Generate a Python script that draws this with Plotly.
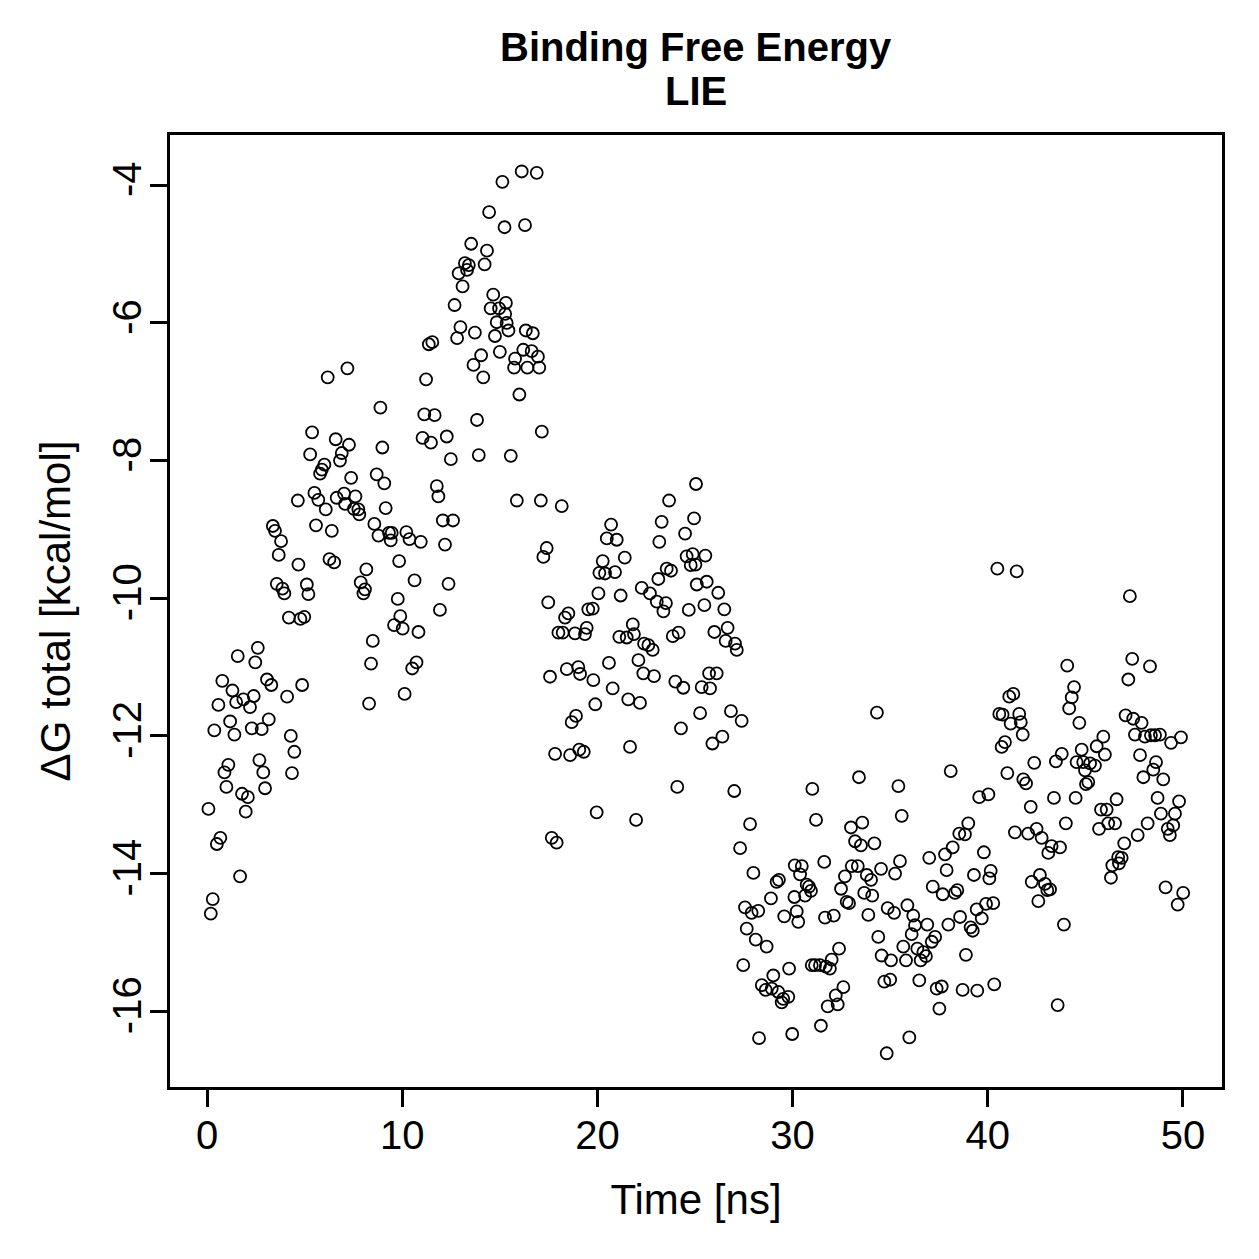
import plotly.graph_objects as go

time_ns = [
    0.07, 0.19, 0.29, 0.37, 0.50, 0.58, 0.68, 0.78, 0.89, 0.99, 1.09, 1.18, 1.30, 1.40, 1.49, 1.57,
    1.69, 1.79, 1.86, 1.98, 2.09, 2.20, 2.29, 2.39, 2.47, 2.60, 2.68, 2.80, 2.88, 2.97, 3.07, 3.16,
    3.29, 3.37, 3.48, 3.57, 3.67, 3.79, 3.86, 3.96, 4.10, 4.19, 4.29, 4.35, 4.47, 4.68, 4.78, 4.87,
    4.98,
    4.65, 5.11, 5.19, 5.28, 5.38, 5.50, 5.58, 5.70, 5.79, 5.88, 6.01, 6.08, 6.18, 6.27, 6.39, 6.51,
    6.59, 6.64, 6.81, 6.90, 7.02, 7.07, 7.19, 7.27, 7.38, 7.52, 7.60, 7.75, 7.80, 7.87, 8.01, 8.09,
    8.16, 8.30, 8.40, 8.49, 8.57, 8.69, 8.78, 8.88, 8.98, 9.08, 9.15, 9.32, 9.41, 9.46, 9.58,
    9.77, 9.84, 9.90, 10.02, 10.12, 10.21, 10.37, 10.51, 10.63, 10.73, 10.83, 10.95, 11.04, 11.13,
    11.22, 11.36, 11.47, 11.54, 11.66, 11.77, 11.85, 11.93, 12.08, 12.19, 12.28, 12.37, 12.49, 12.60,
    12.68, 12.81, 12.89, 12.98, 13.09, 13.21, 13.32, 13.41, 13.53, 13.65, 13.72, 13.83, 13.92, 14.04,
    14.15, 14.22, 14.34, 14.45, 14.53, 14.66, 14.75, 14.84, 14.96, 15.00, 15.13, 15.24, 15.31,
    15.27, 15.35, 15.44, 15.56, 15.73, 15.78, 15.87, 16.00, 16.12, 16.20, 16.29, 16.33, 16.41, 16.63,
    16.69, 16.89, 16.95, 17.02, 17.10, 17.15, 17.23, 17.40, 17.48, 17.57, 17.66, 17.83, 17.91, 18.00,
    18.17, 18.22, 18.34, 18.43, 18.51, 18.60, 18.68, 18.85, 18.90, 19.02, 19.07, 19.11, 19.36, 19.30,
    19.45, 19.53, 19.79, 19.89, 19.96,
    19.76, 20.10, 20.05, 20.27, 20.39, 20.48, 20.59, 20.70, 20.78, 20.90, 20.99, 21.12, 21.19, 21.40,
    21.50, 21.58, 21.67, 21.81, 21.87, 21.98, 22.10, 22.18, 22.27, 22.35, 22.39, 22.61, 22.69, 22.83,
    22.90, 23.04, 23.12, 23.17, 23.29, 23.38, 23.51, 23.55, 23.67, 23.77, 23.86, 23.99, 24.09, 24.16,
    24.28, 24.40, 24.49, 24.57, 24.68, 24.78, 24.88, 24.95, 25.05, 25.09,
    25.02, 25.26, 25.34, 25.48, 25.53, 25.60, 25.72, 25.77, 25.89, 25.99, 26.11, 26.19, 26.40, 26.50,
    26.57, 26.67, 26.84, 27.01, 27.05, 27.14, 27.31, 27.39, 27.47, 27.56, 27.65, 27.82, 27.90, 27.99,
    28.11, 28.24, 28.28, 28.42, 28.62, 28.67, 28.89, 28.93, 29.01, 29.18, 29.27, 29.30, 29.44, 29.52,
    29.57,
    29.78, 29.82, 29.98, 30.09, 30.11, 30.21, 30.29, 30.38, 30.47, 30.64, 30.72, 30.84, 30.94, 30.98,
    31.01, 31.15, 31.20, 31.40, 31.45, 31.62, 31.66, 31.70, 31.80, 31.91, 32.00, 32.11, 32.21, 32.31,
    32.38, 32.48, 32.60, 32.68, 32.77, 32.89, 32.99, 33.03, 33.20, 33.34, 33.40, 33.50, 33.57, 33.67,
    33.80, 33.88, 34.02, 34.08, 34.19, 34.32, 34.39, 34.53, 34.56, 34.70, 34.82, 34.87, 35.04, 35.00,
    35.25, 35.20,
    35.42, 35.50, 35.59, 35.67, 35.81, 35.88, 35.98, 36.10, 36.18, 36.27, 36.39, 36.49, 36.56, 36.70,
    36.83, 36.90, 37.00, 37.13, 37.18, 37.30, 37.38, 37.52, 37.64, 37.69, 37.81, 37.89, 37.98, 38.10,
    38.20, 38.32, 38.44, 38.54, 38.58, 38.71, 38.83, 38.88, 39.00, 39.12, 39.23, 39.29, 39.43, 39.46,
    39.56, 39.69, 39.80, 39.91, 40.03, 40.08, 40.15, 40.28, 40.33,
    40.49, 40.59, 40.71, 40.76, 40.88, 41.00, 41.10, 41.17, 41.31, 41.39, 41.48, 41.61, 41.69, 41.79,
    41.82, 41.96, 42.07, 42.20, 42.25, 42.38, 42.50, 42.59, 42.67, 42.76, 42.93, 43.10, 43.05, 43.19,
    43.27, 43.39, 43.49, 43.58, 43.70, 43.79, 43.90, 44.00, 44.07, 44.17, 44.30, 44.42, 44.50, 44.55,
    44.69, 44.81, 44.89, 44.98, 45.03, 45.15, 45.24,
    45.49, 45.58, 45.70, 45.80, 45.92, 46.00, 46.09, 46.17, 46.31, 46.38, 46.52, 46.60, 46.68, 46.72,
    46.86, 46.99, 47.06, 47.20, 47.28, 47.40, 47.45, 47.54, 47.68, 47.80, 47.88, 47.97, 48.05, 48.19,
    48.31, 48.36, 48.48, 48.57, 48.62, 48.70, 48.82, 48.87, 48.99, 49.11, 49.22, 49.33, 49.39, 49.50,
    49.59, 49.73, 49.80, 49.90, 50.01,
]

dG_total = [
    -13.06, -14.58, -14.37, -11.92, -13.57, -11.55, -13.48, -11.20, -12.53, -12.74, -12.42, -11.79, -11.34, -11.98, -11.51, -10.84,
    -14.04, -12.84, -11.47, -13.10, -12.89, -11.58, -11.89, -11.42, -10.93, -10.72, -12.35, -11.90, -12.53, -12.76, -11.18, -11.76,
    -11.26, -8.95, -9.02, -9.79, -9.37, -9.17, -9.86, -9.93, -11.43, -10.28, -12.00, -12.54, -12.23, -9.51, -10.30, -11.26,
    -10.27,
    -8.58, -9.80, -9.94, -7.91, -7.59, -8.47, -8.94, -8.57, -8.19, -8.13, -8.06, -8.71, -6.79, -9.43, -9.02, -9.48,
    -7.69, -8.54, -8.00, -7.89, -8.48, -8.63, -6.66, -7.77, -8.25, -8.70, -8.52, -8.71, -8.78, -9.77, -9.93, -9.87,
    -9.58, -11.53, -10.95, -10.62, -8.92, -8.20, -9.09, -7.23, -7.81, -8.33, -8.69, -9.05, -9.16, -9.05, -10.39,
    -10.01, -9.46, -10.26, -10.44, -11.39, -9.04, -9.14, -11.02, -9.74, -10.93, -10.49, -9.18, -7.67, -7.33,
    -6.82, -6.31, -7.74, -6.28, -7.34, -8.37, -8.52, -10.17, -8.87, -9.22, -7.65, -9.79, -7.98, -8.87,
    -5.74, -6.22, -5.28, -6.06, -5.47, -5.13, -5.23, -5.16, -4.85, -6.61, -6.14, -7.41, -7.92, -6.47,
    -6.79, -5.15, -4.95, -4.39, -5.79, -5.59, -6.19, -5.99, -5.79, -6.42, -3.95, -4.61, -5.71,
    -5.87, -6.00, -6.11, -7.93, -6.65, -6.52, -8.58, -7.04, -3.80, -6.39, -4.58, -6.11, -6.65, -6.41,
    -6.15, -3.82, -6.49, -6.65, -8.58, -7.58, -9.40, -9.27, -10.06, -11.14, -13.48, -12.26, -13.55, -10.50,
    -8.66, -10.50, -10.28, -11.03, -10.22, -12.28, -11.80, -10.51, -11.71, -11.00, -12.20, -11.10, -10.52, -12.23,
    -10.43, -10.16, -11.19, -11.54, -13.11,
    -10.15, -9.63, -9.93, -9.46, -9.64, -9.13, -10.94, -8.93, -11.31, -9.62, -9.15, -10.56, -9.96, -9.41,
    -10.57, -11.47, -12.16, -10.38, -10.52, -13.22, -10.90, -11.52, -9.85, -11.09, -10.66, -10.68, -9.93, -10.75,
    -11.13, -10.05, -9.72, -9.18, -8.89, -10.19, -10.07, -9.57, -8.58, -9.60, -10.55, -11.21, -12.74, -10.50,
    -11.89, -11.30, -9.06, -9.39, -10.17, -9.52, -9.36, -8.84, -8.34, -9.80,
    -9.51, -11.67, -11.29, -10.10, -9.38, -9.76, -11.09, -11.31, -12.11, -10.49, -11.09, -9.92, -12.01, -10.16,
    -10.62, -10.43, -11.64, -12.80, -10.66, -10.75, -13.63, -11.78, -15.33, -14.49, -14.80, -13.28, -14.57, -13.99,
    -14.96, -14.54, -16.39, -15.62, -15.69, -15.06, -14.36, -15.67, -15.48, -14.12, -15.72, -14.09, -15.87, -15.82,
    -14.62,
    -15.79, -15.38, -16.33, -14.34, -13.88, -14.55, -14.70, -14.01, -13.89, -14.32, -14.16, -14.19, -14.25, -15.33,
    -12.77, -15.33, -13.22, -15.33, -16.21, -13.83, -14.64, -15.35, -15.93, -15.38, -15.25, -14.61, -15.77, -15.90,
    -15.09, -14.22, -15.65, -14.04, -14.41, -14.43, -13.33, -13.89, -13.53, -13.89, -12.60, -13.59, -13.26, -14.28,
    -14.02, -14.60, -14.09, -14.32, -13.56, -11.66, -14.92, -13.93, -15.19, -15.57, -16.61, -14.50, -15.26, -15.54,
    -14.00, -14.57,
    -12.73, -13.82, -13.16, -15.06, -15.26, -14.46, -16.38, -14.88, -14.61, -14.75, -15.09, -15.55, -15.26, -15.14,
    -15.20, -14.74, -13.77, -14.99, -14.19, -14.92, -15.67, -15.96, -15.64, -14.30, -13.72, -13.95, -14.74, -12.51,
    -13.62, -14.28, -14.24, -13.42, -14.63, -15.69, -13.43, -15.18, -13.27, -14.78, -14.83, -14.02, -14.52, -15.70,
    -12.89, -14.65, -13.69, -14.44, -12.85, -14.07, -13.96, -14.43, -15.61,
    -9.57, -11.68, -12.16, -11.69, -12.09, -12.54, -11.43, -11.82, -11.39, -13.40, -9.61, -11.68, -11.80, -11.98,
    -12.63, -12.69, -13.42, -13.03, -14.12, -12.39, -13.35, -14.40, -14.02, -13.48, -14.15, -13.70, -14.24, -14.23,
    -13.60, -12.90, -12.37, -15.91, -13.62, -12.26, -14.74, -13.27, -10.98, -11.60, -11.44, -11.29, -12.90, -12.38,
    -11.81, -12.20, -12.38, -12.50, -12.70, -12.67, -12.40,
    -12.43, -12.15, -13.35, -13.07, -12.01, -12.27, -13.07, -13.27, -14.06, -13.88, -13.27, -12.92, -13.76, -13.85,
    -13.77, -13.56, -11.70, -11.18, -9.97, -10.88, -11.75, -11.98, -13.44, -12.28, -11.81, -12.60, -12.01, -13.27,
    -10.99, -11.99, -12.49, -11.99, -12.38, -12.90, -11.98, -13.13, -12.63, -14.20, -13.35, -13.44, -12.10, -13.30,
    -13.13, -14.45, -12.95, -12.02, -14.28,
]

x_ticks = [0, 10, 20, 30, 40, 50]
y_ticks = [-16, -14, -12, -10, -8, -6, -4]
title_lines = ["Binding Free Energy", "LIE"]

FONT = "Liberation Sans, Arial, Helvetica, sans-serif"

fig = go.Figure()
fig.add_trace(go.Scatter(
    x=time_ns, y=dG_total, mode="markers",
    marker=dict(symbol="circle-open", size=12, color="black", line=dict(width=1.8, color="black")),
    showlegend=False, hoverinfo="x+y",
))

axis_common = dict(
    showgrid=False, zeroline=False, showline=True, mirror=True, automargin=False,
    linecolor="black", linewidth=2.5, ticks="outside", ticklen=17, tickwidth=2.5,
    tickcolor="black", tickfont=dict(family=FONT, size=40, color="black"),
)

# plot area: top 135 px, bottom 1087 px (height 952)
fig.add_annotation(text="<b>" + title_lines[0] + "</b>", xref="paper", yref="paper",
                   x=0.5, y=(1087 - 46.5) / 952, xanchor="center", yanchor="middle",
                   showarrow=False, font=dict(family=FONT, size=40, color="black"))
fig.add_annotation(text="<b>" + title_lines[1] + "</b>", xref="paper", yref="paper",
                   x=0.5, y=(1087 - 91) / 952, xanchor="center", yanchor="middle",
                   showarrow=False, font=dict(family=FONT, size=40, color="black"))

fig.update_layout(
    width=1259, height=1259,
    paper_bgcolor="white", plot_bgcolor="white",
    margin=dict(l=170, r=37, t=135, b=172),
    xaxis=dict(
        range=[-1.9, 52.0], tickmode="array", tickvals=x_ticks,
        ticktext=[str(v) for v in x_ticks], ticklabelstandoff=-6,
        title=dict(text="Time [ns]", font=dict(family=FONT, size=42, color="black"), standoff=29),
        **axis_common,
    ),
    yaxis=dict(
        range=[-17.10, -3.27], tickmode="array", tickvals=y_ticks,
        ticktext=[str(v) for v in y_ticks], tickangle=-90, ticklabelstandoff=-7,
        title=dict(text="ΔG total [kcal/mol]", font=dict(family=FONT, size=42, color="black"), standoff=22),
        **axis_common,
    ),
)

fig.write_html("out.html")
